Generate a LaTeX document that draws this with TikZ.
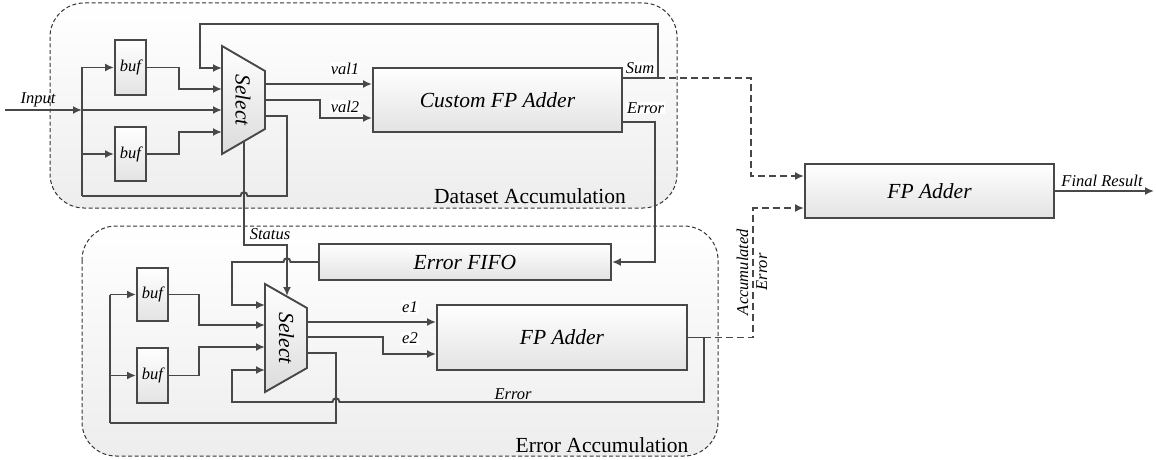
\documentclass[tikz,border=0pt]{standalone}
\usepackage{fontspec}
\setmainfont{Liberation Serif}
\usetikzlibrary{arrows.meta}
\definecolor{wirec}{HTML}{484848}
\definecolor{grpc}{HTML}{353535}
\newcommand\blkfont{\fontsize{21.5}{24}\selectfont\itshape}
\newcommand\sigfont{\fontsize{16.5}{19}\selectfont\itshape}
\newcommand\grpfont{\fontsize{21.5}{24}\selectfont}
\tikzset{
  wire/.style={draw=wirec, line width=1.9pt},
  arr/.style={wire, -{Latex[length=9pt,width=8pt]}},
  darr/.style={arr, dash pattern=on 7pt off 4pt},
  group/.style={draw=grpc, line width=1pt, dash pattern=on 4pt off 2.5pt,
    rounded corners=34pt, top color=white, bottom color=black!7},
  block/.style={draw=wirec, line width=1.9pt, top color=white, bottom color=black!11,
    inner sep=0pt, font=\blkfont},
  bufbox/.style={block, minimum width=31pt, font=\sigfont},
  muxbody/.style={draw=wirec, line width=1.9pt, top color=white, bottom color=black!14},
  sig/.style={font=\sigfont, inner sep=1pt},
  sigw/.style={sig, fill=white},
  grouplabel/.style={font=\grpfont, inner sep=0pt},
}
\begin{document}
\begin{tikzpicture}[x=1pt,y=-1pt]
\useasboundingbox (0,0) rectangle (1156,460);

% ---- accumulation regions
\path[group] (50,3) rectangle (677,208);
\path[group] (82,226) rectangle (718,456);
\node[grouplabel] (dslab) at (530,196.5) {Dataset Accumulation};
\node[grouplabel] (ealab) at (602,445.5) {Error Accumulation};

% ---- blocks
\node[bufbox, minimum height=55pt] (bufA) at (130.5,67.5) {buf};
\node[bufbox, minimum height=54pt] (bufB) at (130.5,154) {buf};
\node[block, minimum width=249pt, minimum height=64pt] (cfa) at (497.5,100) {Custom FP Adder};
\node[block, minimum width=249pt, minimum height=54pt] (fpa) at (929.5,191) {FP Adder};
\node[block, minimum width=292pt, minimum height=36pt] (fifo) at (465,262) {Error FIFO};
\node[bufbox, minimum height=53pt] (bufC) at (152.5,294.5) {buf};
\node[bufbox, minimum height=55pt] (bufD) at (152.5,375.5) {buf};
\node[block, minimum width=250pt, minimum height=65pt] (fpb) at (562,337.5) {FP Adder};

% ---- multiplexers
\path[muxbody] (222,46) -- (265,71) -- (265,129) -- (222,154) -- cycle;
\node[font=\blkfont, rotate=-90, inner sep=0pt] (mux1) at (243,100) {Select};
\path[muxbody] (265,284) -- (307,308) -- (307,368) -- (265,392) -- cycle;
\node[font=\blkfont, rotate=-90, inner sep=0pt] (mux2) at (286.5,338) {Select};

% ---- ports and bends
\coordinate (inS) at (5,110);
\coordinate (jIn) at (82,110);
\coordinate (jTop) at (82,67.5);
\coordinate (jMid) at (82,154);
\coordinate (jBot) at (82,196);
\coordinate (m1a) at (222,68);
\coordinate (m1b) at (222,89);
\coordinate (m1c) at (222,110);
\coordinate (m1d) at (222,132);
\coordinate (m1o1) at (265,84);
\coordinate (m1o2) at (265,100);
\coordinate (m1o3) at (265,116);
\coordinate (m1s) at (244,141);
\coordinate (sumOut) at (622,78);
\coordinate (sumJ) at (658,78);
\coordinate (errOut) at (622,122);
\coordinate (m2a) at (265,305);
\coordinate (m2b) at (265,325);
\coordinate (m2c) at (265,347);
\coordinate (m2d) at (265,370);
\coordinate (m2o1) at (307,322);
\coordinate (m2o2) at (307,337);
\coordinate (m2o3) at (307,353);
\coordinate (m2s) at (287,296);
\coordinate (kTop) at (110,294.5);
\coordinate (kMid) at (110,375.5);
\coordinate (kBot) at (110,423);
\coordinate (accJ) at (704,337.5);
\coordinate (fin) at (1154,191);

% ---- dataset accumulation wiring
\draw[arr] (inS) -- (jIn);
\draw[arr] (jIn) -- (m1c);
\draw[wire] (jTop) -- (jBot);
\draw[arr] (jTop) -- (bufA.west);
\draw[arr] (jMid) -- (bufB.west);
\draw[arr] (bufA.east) -- (179,67.5) -- (179,89) -- (m1b);
\draw[arr] (bufB.east) -- (179,154) -- (179,132) -- (m1d);
\draw[arr] (sumOut) -- (sumJ) -- (658,24) -- (200,24) -- (200,68) -- (m1a);
\draw[arr] (m1o1) -- (cfa.west |- m1o1);
\draw[arr] (m1o2) -- (320,100) -- (320,118) -- (cfa.west |- 0,118);
\draw[wire] (m1o3) -- (287,116) -- (287,196) -- (247.5,196)
  .. controls (247.5,191) and (240.5,191) .. (240.5,196) -- (jBot);
\draw[arr] (m1s) -- (244,245) -- (287,245) -- (m2s);
\draw[arr] (errOut) -- (655,122) -- (655,262) -- (fifo.east);

% ---- partial results to the final adder
\draw[darr] (sumJ) -- (751,78) -- (751,176) -- (fpa.west |- 0,176);
\draw[wire] (fpb.east) -- (accJ);
\draw[darr] (accJ) -- (753,337.5) -- (753,208) -- (fpa.west |- 0,208);
\draw[arr] (fpa.east) -- (fin);

% ---- error accumulation wiring
\draw[arr] (fifo.west) -- (290.5,262) .. controls (290.5,257) and (283.5,257) .. (283.5,262)
  -- (232,262) -- (232,305) -- (m2a);
\draw[wire] (kTop) -- (kBot);
\draw[arr] (kTop) -- (bufC.west);
\draw[arr] (kMid) -- (bufD.west);
\draw[arr] (bufC.east) -- (199,294.5) -- (199,325) -- (m2b);
\draw[arr] (bufD.east) -- (199,375.5) -- (199,347) -- (m2c);
\draw[arr] (m2o1) -- (fpb.west |- m2o1);
\draw[arr] (m2o2) -- (383,337) -- (383,354) -- (fpb.west |- 0,354);
\draw[wire] (m2o3) -- (336,353) -- (336,423) -- (kBot);
\draw[arr] (accJ) -- (704,402) -- (339.5,402) .. controls (339.5,397) and (332.5,397) .. (332.5,402)
  -- (232,402) -- (232,370) -- (m2d);

% ---- signal labels
\node[sig] (lin) at (38,100) {Input};
\node[sigw] (lv1) at (345,68.5) {val1};
\node[sigw] (lv2) at (345,106.5) {val2};
\node[sigw] (lsum) at (640,68.5) {Sum};
\node[sigw] (lerr) at (645.5,108) {Error};
\node[sig] (lst) at (270,234) {Status};
\node[sigw] (le1) at (410,307) {e1};
\node[sigw] (le2) at (410,338.5) {e2};
\node[sig] (lerr2) at (513,394) {Error};
\node[sig] (lfin) at (1102,180.5) {Final Result};
\node[sig, rotate=90, align=center, inner sep=0pt] (lacc) at (752,272) {Accumulated\\Error};
\end{tikzpicture}
\end{document}
